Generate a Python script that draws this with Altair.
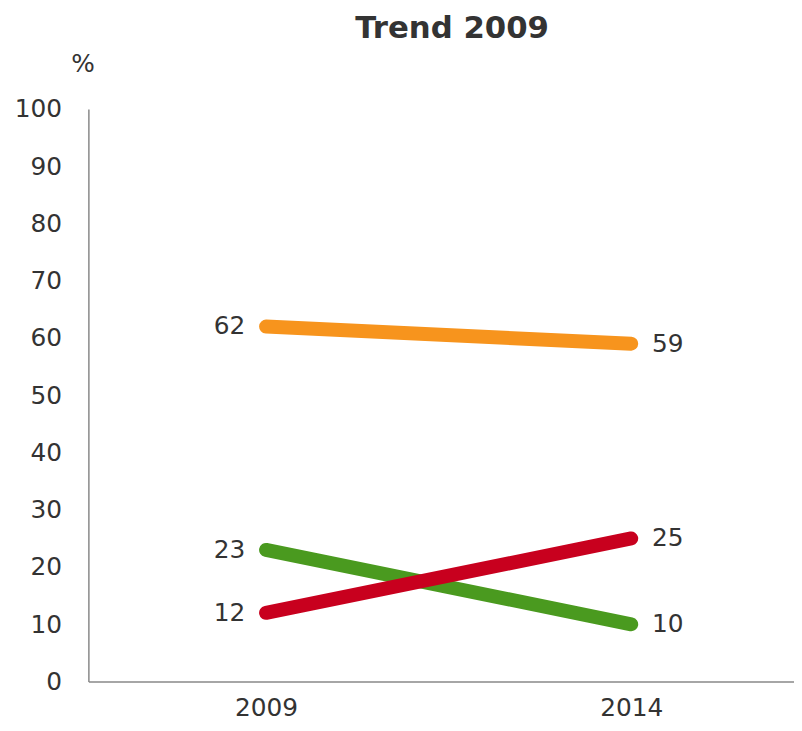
import altair as alt
import pandas as pd

years = [2009, 2014]
series = ["orange", "green", "red"]
values = {
    "orange": [62, 59],
    "green": [23, 10],
    "red": [12, 25],
}
colors = ["#F7941D", "#4A9A1F", "#C8001E"]
y_ticks = list(range(0, 101, 10))

rows = []
for s in series:
    for yr, v in zip(years, values[s]):
        rows.append({"series": s, "year": yr, "value": v})
df = pd.DataFrame(rows)

FONT = "DejaVu Sans"
TXT = "#333333"
FS = 25

x_enc = alt.X("year:Q", scale=alt.Scale(domain=[2006.568, 2016.228], nice=False, zero=False),
              axis=alt.Axis(values=years, format="d", title=None, grid=False, tickSize=0,
                            labelFontSize=FS, labelPadding=14, labelColor=TXT, labelFont=FONT,
                            domainColor="#888888", domainWidth=1.5))
y_enc = alt.Y("value:Q", scale=alt.Scale(domain=[0, 100], nice=False),
              axis=alt.Axis(values=y_ticks, title="%", titleAngle=0, titleX=-6, titleY=-46,
                            titleAlign="center", titleBaseline="middle", titleFontSize=FS,
                            titleFontWeight="normal", titleColor=TXT, titleFont=FONT,
                            grid=False, tickSize=0, labelFontSize=FS, labelPadding=27,
                            labelColor=TXT, labelFont=FONT,
                            domainColor="#888888", domainWidth=1.5))
color_enc = alt.Color("series:N", scale=alt.Scale(domain=series, range=colors), legend=None)

base = alt.Chart(df)
layers = []
for s in series:
    layers.append(
        base.transform_filter(alt.datum.series == s)
        .mark_line(strokeWidth=14, strokeCap="round")
        .encode(x=x_enc, y=y_enc, color=color_enc)
    )

left_txt = base.transform_filter(alt.datum.year == 2009).mark_text(
    align="right", baseline="middle", dx=-21, fontSize=FS, font=FONT, color=TXT
).encode(x=x_enc, y=y_enc, text="value:Q")
right_txt = base.transform_filter(alt.datum.year == 2014).mark_text(
    align="left", baseline="middle", dx=21, fontSize=FS, font=FONT, color=TXT
).encode(x=x_enc, y=y_enc, text="value:Q")

chart = alt.layer(*layers, left_txt, right_txt).properties(
    width=711, height=577,
    autosize=alt.AutoSizeParams(type="none"),
    padding={"left": 81, "top": 99, "right": 0, "bottom": 39},
    title=alt.Title("Trend 2009", fontSize=31, font=FONT, fontWeight="bold", color=TXT,
                    anchor="middle", frame="group", dx=11, offset=7),
).configure_view(stroke=None)

chart.save("out.html", embed_options={"renderer": "svg", "actions": False})
